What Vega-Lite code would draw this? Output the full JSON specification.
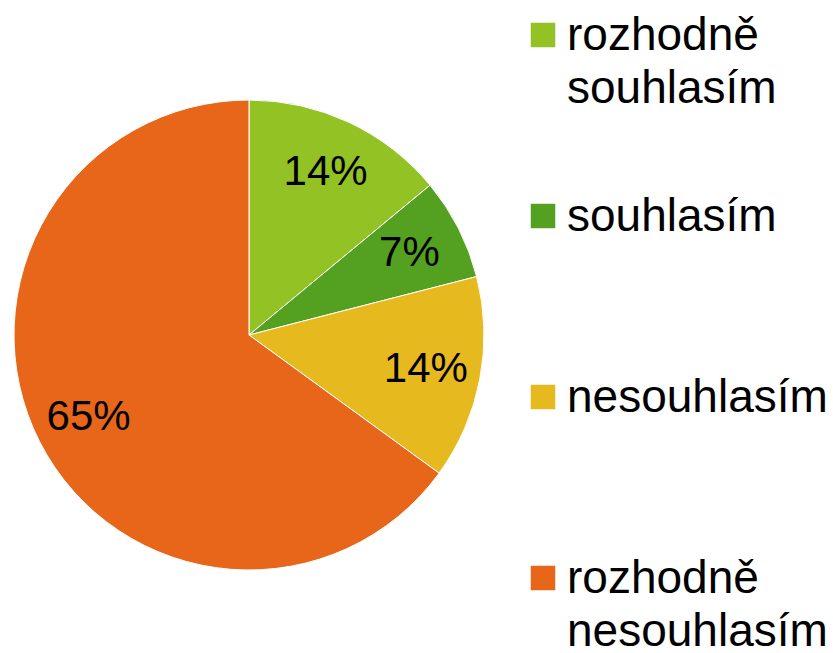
{
  "$schema": "https://vega.github.io/schema/vega-lite/v6.json",
  "width": 498,
  "height": 670,
  "padding": 0,
  "background": "white",
  "view": {"stroke": null},
  "config": {
    "style": {"guide-label": {"dy": 15, "lineHeight": 53}}
  },
  "data": {
    "values": [
      {"kategorie": "rozhodně souhlasím", "podil": 14, "popisek": "14%", "poradi": 1},
      {"kategorie": "souhlasím", "podil": 7, "popisek": "7%", "poradi": 2},
      {"kategorie": "nesouhlasím", "podil": 14, "popisek": "14%", "poradi": 3},
      {"kategorie": "rozhodně nesouhlasím", "podil": 65, "popisek": "65%", "poradi": 4}
    ]
  },
  "encoding": {
    "theta": {"field": "podil", "type": "quantitative", "stack": true},
    "order": {"field": "poradi", "type": "quantitative"},
    "color": {
      "field": "kategorie",
      "type": "nominal",
      "sort": ["rozhodně souhlasím", "souhlasím", "nesouhlasím", "rozhodně nesouhlasím"],
      "scale": {
        "domain": ["rozhodně souhlasím", "souhlasím", "nesouhlasím", "rozhodně nesouhlasím"],
        "range": ["#93C225", "#54A021", "#E6B91E", "#E8661A"]
      },
      "legend": {
        "orient": "none",
        "legendX": 520,
        "legendY": 12,
        "title": null,
        "padding": 0,
        "symbolType": "square",
        "symbolSize": 600,
        "symbolStrokeWidth": 0,
        "labelFont": "Liberation Sans",
        "labelFontSize": 46,
        "labelColor": "black",
        "labelLimit": 400,
        "labelOffset": 1,
        "labelBaseline": "alphabetic",
        "labelExpr": "split(datum.label, ' ')",
        "gridAlign": "all",
        "rowPadding": 81
      }
    }
  },
  "layer": [
    {"mark": {"type": "arc", "outerRadius": 235, "stroke": "white", "strokeWidth": 1}},
    {
      "mark": {"type": "text", "radius": 180, "fontSize": 42, "font": "Liberation Sans"},
      "encoding": {
        "text": {"field": "popisek", "type": "nominal"},
        "color": {"value": "black"}
      }
    }
  ]
}
